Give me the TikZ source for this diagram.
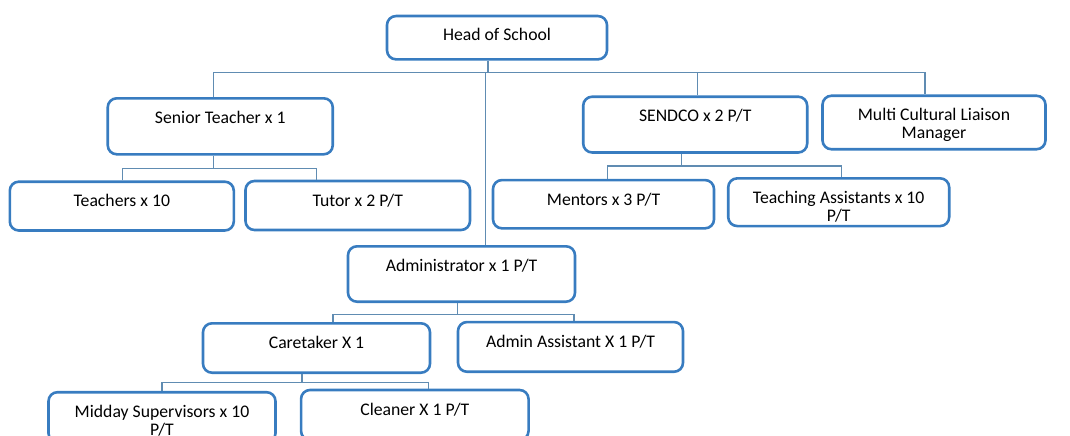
\documentclass[tikz,border=0pt]{standalone}
\usepackage{fontspec}
\setmainfont{Carlito}
\usetikzlibrary{calc}
\definecolor{postblue}{RGB}{56,124,192}
\definecolor{linkblue}{RGB}{96,140,178}
\newcommand{\postfont}{\fontsize{17.7}{18}\selectfont}

\begin{document}
\begin{tikzpicture}[x=1pt,y=-1pt,
post/.style 2 args={draw=postblue,line width=2.6pt,rounded corners=9pt,
 align=center,font=\postfont,inner xsep=4pt,inner ysep=3pt,
 text height=22pt,text depth=#2pt,minimum width=#1pt},
two/.style={text height=40pt},
link/.style={draw=linkblue,line width=1.3pt}]
 \useasboundingbox (0,0) rectangle (1070,436);
 % posts
 \node[post={220}{16},text height=21.3pt] (head) at (497,37.7) {Head of School};
 \node[post={225}{28}] (senior) at (220.25,126.3) {Senior Teacher x 1};
 \node[post={224}{27.8}] (sendco) at (695.2,124.6) {SENDCO x 2 P/T};
 \node[post={223}{7.5},two] (multi) at (934,122.5) {Multi Cultural Liaison\\Manager};
 \node[post={224}{20.8}] (teachers) at (121.8,206.1) {Teachers x 10};
 \node[post={224.5}{21}] (tutor) at (357.75,205.5) {Tutor x 2 P/T};
 \node[post={221}{20.3}] (mentors) at (603.5,204.2) {Mentors x 3 P/T};
 \node[post={221}{1.7},two] (ta) at (838.7,202.2) {Teaching Assistants x 10\\P/T};
 \node[post={227}{27.4}] (admin) at (461.5,274) {Administrator x 1 P/T};
 \node[post={227}{21.4}] (caretaker) at (316.5,348) {Caretaker X 1};
 \node[post={225}{21.7}] (aa) at (570.5,346.9) {Admin Assistant X 1 P/T};
 \node[post={227}{4},two] (midday) at (162,417.2) {Midday Supervisors x 10\\P/T};
 \node[post={227.5}{22}] (cleaner) at (414.8,415) {Cleaner X 1 P/T};
 % bus lines
 \coordinate (bus0) at (500,72.5);
 \coordinate (bus1) at (220,168.5);
 \coordinate (bus2) at (700,166);
 \coordinate (bus3) at (460,314.3);
 \coordinate (bus4) at (300,382.3);
 \foreach \A/\B/\s in {head/bus0/-9,senior/bus1/-6.5,sendco/bus2/-14,admin/bus3/-4,caretaker/bus4/-14.5}
 \draw[link] ([xshift=\s pt]\A.south) -- ([xshift=\s pt]\A.south |- \B);
 \draw[link] ([xshift=-6.5pt]senior.north) |- (bus0) -| ([xshift=-9pt]multi.north);
 \draw[link] ([xshift=2.5pt]sendco.north) -- ([xshift=2.5pt]sendco.north |- bus0);
 \draw[link] ([xshift=24pt]admin.north) -- ([xshift=24pt]admin.north |- bus0);
 \draw[link] ([xshift=1pt]teachers.north) |- (bus1) -| ([xshift=-41pt]tutor.north);
 \draw[link] ([xshift=4pt]mentors.north) |- (bus2) -| ([xshift=3pt]ta.north);
 \draw[link] ([xshift=16.5pt]caretaker.north) |- (bus3) -| ([xshift=3.5pt]aa.north);
 \draw[link] (midday.north) |- (bus4) -| ([xshift=14pt]cleaner.north);
\end{tikzpicture}
\end{document}
